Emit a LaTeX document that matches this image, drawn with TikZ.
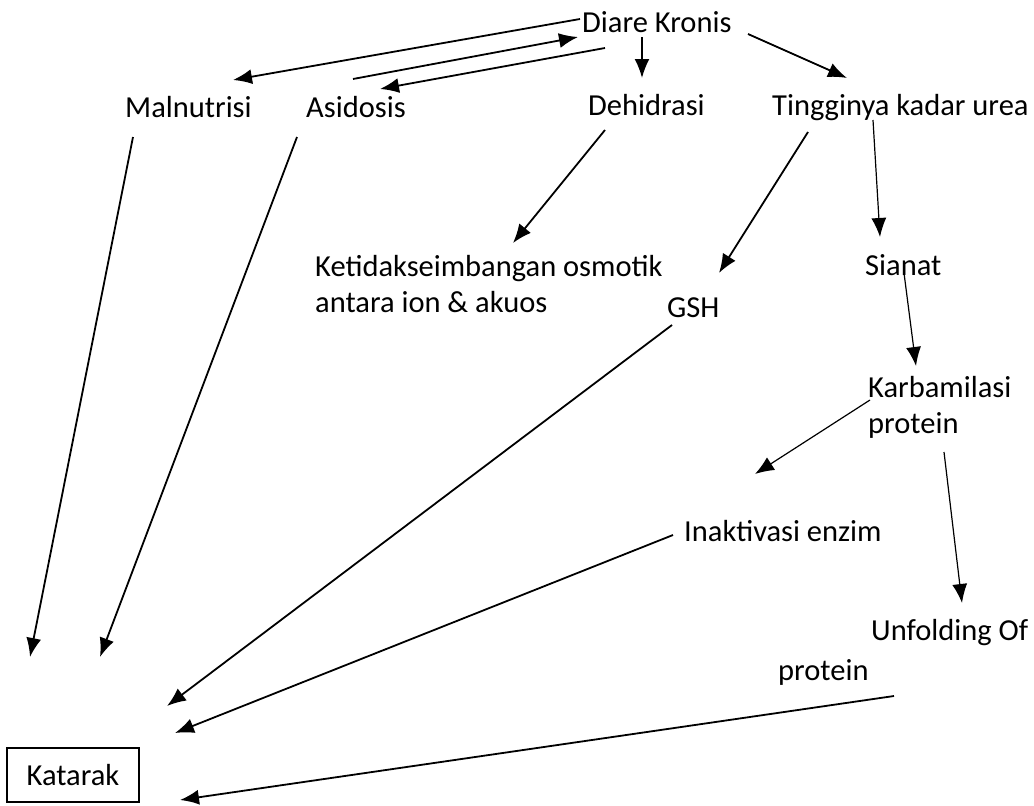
\documentclass[tikz,border=0pt]{standalone}
\usepackage{fontspec}
\setmainfont{Carlito}
\usetikzlibrary{arrows.meta}
\newcommand{\lw}{1.8pt}
\newcommand{\thinlw}{1.2pt}
\newcommand{\txtsize}{\fontsize{30.5}{36}\selectfont}

\begin{document}
\begin{tikzpicture}[x=1pt, y=-1pt, >={Latex[length=19pt, width=15pt]},
    lbl/.style={inner sep=0pt, anchor=base west, font=\txtsize},
    arr/.style={->, line width=\lw},
    thinarr/.style={->, line width=\thinlw}]
    \useasboundingbox (0,0) rectangle (1034,806);

    % labels (two-line labels sit on the baseline of their last line)
    \node[lbl] (diare) at (582, 32) {Diare Kronis};
    \node[lbl] (malnutrisi) at (125, 117) {Malnutrisi};
    \node[lbl] (asidosis) at (306, 117) {Asidosis};
    \node[lbl] (dehidrasi) at (588, 115) {Dehidrasi};
    \node[lbl] (urea) at (772, 115) {Tingginya kadar urea};
    \node[lbl, align=left] (osmotik) at (315, 312) {Ketidakseimbangan osmotik\\antara ion \& akuos};
    \node[lbl] (gsh) at (667, 317) {GSH};
    \node[lbl] (sianat) at (865, 275) {Sianat};
    \node[lbl, align=left] (karbamilasi) at (868, 433) {Karbamilasi\\protein};
    \node[lbl] (inaktivasi) at (684, 541) {Inaktivasi enzim};
    \node[lbl] (unfolding) at (871, 640) {Unfolding Of};
    \node[lbl] (unfoldprot) at (778, 680) {protein};
    \node[draw, line width=1.2pt, inner sep=0pt, minimum width=132pt, minimum height=54pt, font=\txtsize] (katarak) at (73, 775) {Katarak};

    % arrow ends
    \coordinate (dkM) at (580, 19);
    \coordinate (mIn) at (233, 80);
    \coordinate (aOut) at (353, 79);
    \coordinate (dkIn) at (578, 37);
    \coordinate (dkA) at (605, 48);
    \coordinate (aIn) at (380, 89);
    \coordinate (dkD) at (642, 37);
    \coordinate (dIn) at (642, 78);
    \coordinate (dkU) at (748, 34);
    \coordinate (uIn) at (847, 78);
    \coordinate (mOut) at (133, 137);
    \coordinate (mEnd) at (30, 657);
    \coordinate (aDown) at (297, 137);
    \coordinate (aEnd) at (100, 657);
    \coordinate (dOut) at (605, 130);
    \coordinate (osmIn) at (513, 243);
    \coordinate (uG) at (808, 132);
    \coordinate (gIn) at (719, 273);
    \coordinate (uS) at (873, 120);
    \coordinate (sIn) at (880, 237);
    \coordinate (sOut) at (904, 273);
    \coordinate (kIn) at (916, 366);
    \coordinate (kOut) at (870, 400);
    \coordinate (kEnd) at (755, 474);
    \coordinate (kpOut) at (944, 452);
    \coordinate (unfIn) at (962, 603);
    \coordinate (gOut) at (672, 325);
    \coordinate (gEnd) at (167, 706);
    \coordinate (iOut) at (673, 535);
    \coordinate (iEnd) at (175, 733);
    \coordinate (upOut) at (894, 696);
    \coordinate (upEnd) at (180, 800);

    % from Diare Kronis
    \draw[arr] (dkM) -- (mIn);
    \draw[arr] (aOut) -- (dkIn);
    \draw[arr] (dkA) -- (aIn);
    \draw[arr] (dkD) -- (dIn);
    \draw[arr] (dkU) -- (uIn);

    % middle
    \draw[arr] (dOut) -- (osmIn);
    \draw[arr] (uG) -- (gIn);
    \draw[thinarr] (uS) -- (sIn);
    \draw[thinarr] (sOut) -- (kIn);
    \draw[thinarr] (kOut) -- (kEnd);
    \draw[thinarr] (kpOut) -- (unfIn);

    % towards Katarak
    \draw[arr] (mOut) -- (mEnd);
    \draw[arr] (aDown) -- (aEnd);
    \draw[arr] (gOut) -- (gEnd);
    \draw[arr] (iOut) -- (iEnd);
    \draw[arr] (upOut) -- (upEnd);
\end{tikzpicture}
\end{document}
